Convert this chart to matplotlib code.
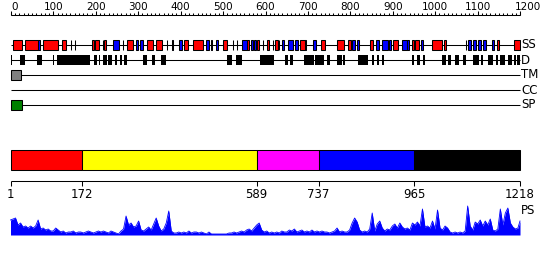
import numpy as np
import matplotlib
matplotlib.use("Agg")
import matplotlib.pyplot as plt
from matplotlib.patches import Rectangle

# sequence / ruler
seq_len = 1218
ruler_max = 1200
ruler_labels = [0, 100, 200, 300, 400, 500, 600, 700, 800, 900, 1000, 1100, 1200]

# secondary structure (residue ranges)
ss_helix = [(6, 28), (36, 67), (78, 115), (123, 133), (195, 201), (204, 213),
            (224, 229), (279, 294), (326, 341), (348, 363), (416, 426), (436, 461),
            (508, 517), (566, 571), (590, 595), (613, 619), (633, 639), (692, 704),
            (742, 752), (780, 798), (806, 814), (859, 867), (915, 926), (959, 965),
            (967, 977), (1007, 1032), (1037, 1042), (1164, 1168), (1204, 1218)]
ss_strand = [(67, 72), (247, 259), (301, 305), (310, 317), (386, 390), (403, 410),
             (469, 474), (479, 483), (492, 497), (553, 565), (575, 581), (583, 588),
             (649, 654), (664, 676), (680, 688), (704, 708), (724, 730), (817, 824),
             (829, 834), (875, 881), (889, 903), (905, 911), (937, 947), (948, 954),
             (981, 987), (1094, 1102), (1106, 1114), (1118, 1125), (1130, 1136),
             (1152, 1156)]
ss_short = [145, 155, 222, 270, 374, 532, 541, 603, 627, 642, 1089]

# disorder
disorder = [(1, 5), (24, 36), (64, 76), (102, 105), (112, 191), (200, 208),
            (212, 215), (222, 231), (234, 243), (250, 255), (262, 267), (272, 279),
            (317, 327), (339, 346), (360, 372), (518, 530), (540, 555), (597, 630),
            (656, 663), (668, 675), (701, 725), (729, 751), (756, 765), (780, 792),
            (795, 799), (831, 855), (865, 870), (877, 882), (889, 894), (961, 966),
            (973, 978), (987, 992), (1032, 1041), (1046, 1054), (1063, 1072),
            (1082, 1089), (1106, 1120), (1125, 1129), (1141, 1153), (1160, 1165),
            (1170, 1182), (1189, 1199), (1203, 1208), (1211, 1218)]

tm_regions = [(1, 25)]
cc_regions = []
sp_regions = [(1, 29)]

# domains
domain_bounds = [1, 172, 589, 737, 965, 1218]

# PS profile, one value every 6 residues
ps_step = 6
ps_values = [15, 16, 17, 10, 12, 8, 9, 7, 9, 7, 9, 15, 6, 7, 5, 6, 4, 4, 7, 5,
             3, 4, 2, 3, 3, 4, 2, 3, 3, 2, 3, 4, 3, 2, 3, 4, 3, 4, 3, 2,
             4, 3, 2, 1, 4, 6, 19, 10, 12, 8, 9, 14, 5, 4, 6, 8, 5, 11, 17, 9,
             4, 6, 12, 24, 4, 2, 2, 3, 2, 3, 2, 4, 2, 3, 3, 2, 3, 2, 1, 3,
             1, 1, 1, 1, 1, 1, 1, 2, 2, 3, 2, 3, 4, 3, 5, 6, 4, 7, 10, 12,
             5, 3, 4, 2, 3, 2, 3, 2, 4, 3, 3, 5, 4, 6, 3, 4, 5, 3, 4, 3,
             5, 3, 4, 3, 4, 3, 3, 2, 3, 4, 7, 3, 4, 3, 3, 5, 12, 17, 13, 5,
             3, 4, 3, 6, 22, 4, 11, 14, 7, 4, 6, 5, 9, 11, 7, 12, 8, 6, 7, 5,
             12, 10, 13, 9, 26, 8, 9, 7, 14, 6, 25, 7, 5, 9, 7, 3, 2, 3, 2, 3,
             2, 4, 29, 9, 5, 13, 11, 15, 9, 14, 10, 16, 5, 4, 6, 26, 10, 22, 27, 12,
             8, 6, 7, 14]

HELIX = "#ff0000"
STRAND = "#0000ff"
DOMAIN_COLORS = ["#ff0000", "#ffff00", "#ff00ff", "#0000ff", "#000000"]
LW = 0.75
FS = 8.5

W, H = 550, 260
fig = plt.figure(figsize=(W / 100, H / 100), dpi=100)
plt.rcParams['font.family'] = ['DejaVu Sans']

# residue -> pixel: 1 at 10.5 px, 1218 at 520 px
k = 509.5 / (seq_len - 1)
xl = (1 - 10.5 / k, 1 + (W - 10.5) / k)
px = 1 / k  # one pixel in residues

ax = fig.add_axes([0, 0, 1, 1])
ax.set_xlim(*xl)
ax.set_ylim(H, 0)
ax.axis('off')

# ruler has its own scale: 0 at 11 px, 1200 at 520 px
k2 = 509.0 / ruler_max
axr = fig.add_axes([0, 0, 1, 1])
axr.set_xlim(-11 / k2, ruler_max + (W - 520) / k2)
axr.set_ylim(H, 0)
axr.axis('off')
axr.hlines(15, 0, ruler_max, color='black', lw=LW)
minor = np.arange(0, ruler_max + 1, 10)
axr.vlines(minor, 12.5, 15, color='black', lw=LW)
axr.vlines(ruler_labels, 10.5, 15, color='black', lw=LW)
for v in ruler_labels:
    if v == 0:
        axr.text(v, 11.5, str(v), ha='left', va='bottom', fontsize=7.5)
    elif v == ruler_max:
        axr.text(v - 5 / k2, 11.5, str(v), ha='left', va='bottom', fontsize=7.5)
    else:
        axr.text(v, 11.5, str(v), ha='center', va='bottom', fontsize=7.5)

# rows
rows = {'SS': 45, 'D': 60, 'TM': 75, 'CC': 90, 'SP': 105}
for name, y in rows.items():
    ax.hlines(y, 1, seq_len, color='black', lw=LW, zorder=1)
    ax.text(seq_len + px, y, name, ha='left', va='center', fontsize=FS)

y = rows['SS']
for s, e in ss_helix:
    ax.add_patch(Rectangle((s, y - 5), e - s, 10, facecolor=HELIX,
                           edgecolor='black', lw=LW, zorder=2))
for s, e in ss_strand:
    ax.add_patch(Rectangle((s, y - 5), e - s, 10, facecolor=STRAND,
                           edgecolor='black', lw=LW, zorder=2))
ax.vlines(ss_short, y - 5, y + 5, color='black', lw=LW, zorder=2)

y = rows['D']
for s, e in disorder:
    ax.add_patch(Rectangle((s, y - 5), e - s, 10, facecolor='black',
                           edgecolor='none', zorder=2))

for regs, name, col in [(tm_regions, 'TM', '#808080'), (cc_regions, 'CC', '#ffa500'),
                        (sp_regions, 'SP', '#008000')]:
    y = rows[name]
    for s, e in regs:
        ax.add_patch(Rectangle((s, y - 5), e - s, 10, facecolor=col,
                               edgecolor='black', lw=LW, zorder=2))

# domain bar
for i in range(len(domain_bounds) - 1):
    s, e = domain_bounds[i], domain_bounds[i + 1]
    ax.add_patch(Rectangle((s, 150), e - s, 20, facecolor=DOMAIN_COLORS[i],
                           edgecolor='black', lw=LW, zorder=2))
ax.hlines(181, domain_bounds[0], domain_bounds[-1], color='black', lw=LW)
ax.vlines(domain_bounds, 181, 185.5, color='black', lw=LW)
for b in domain_bounds:
    ax.text(b, 188, str(b), ha='center', va='top', fontsize=8.5)

# PS profile
axp = fig.add_axes([0, (H - 235) / H, 1, 30 / H])
axp.set_xlim(*xl)
axp.set_ylim(0, 30)
axp.axis('off')
ps_pos = np.minimum(1 + ps_step * np.arange(len(ps_values)), seq_len)
axp.fill_between(ps_pos, 0, ps_values, color='#0000ff', lw=0)
axp.plot(ps_pos, ps_values, color='#0000ff', lw=0.6)
axp.hlines(0.5, 1, seq_len, color='#0000ff', lw=1.2)
ax.text(seq_len + px, 211, 'PS', ha='left', va='center', fontsize=FS)

fig.savefig('out.png', dpi=100)
